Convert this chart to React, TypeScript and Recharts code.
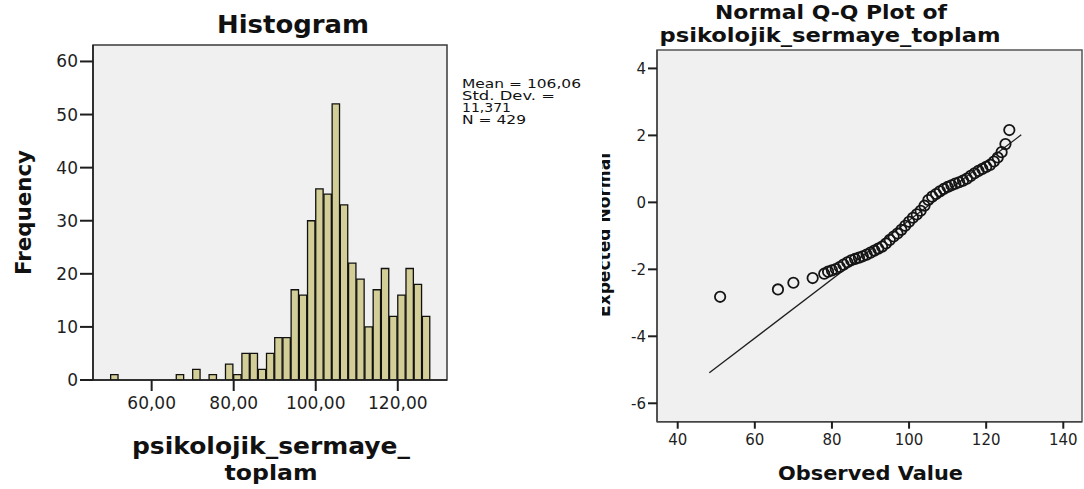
import React from "react";
import {
  Bar,
  BarChart,
  CartesianGrid,
  ReferenceArea,
  Scatter,
  ScatterChart,
  XAxis,
  YAxis,
} from "recharts";

// histogram bins (width 2), lower bound of each bin
const binStarts = [
  50, 52, 54, 56, 58, 60, 62, 64, 66, 68, 70, 72, 74, 76, 78, 80, 82, 84, 86, 88,
  90, 92, 94, 96, 98, 100, 102, 104, 106, 108, 110, 112, 114, 116, 118, 120, 122, 124, 126,
];
const binCounts = [
  1, 0, 0, 0, 0, 0, 0, 0, 1, 0, 2, 0, 1, 0, 3, 1, 5, 5, 2, 5,
  8, 8, 17, 16, 30, 36, 35, 52, 33, 22, 19, 10, 17, 21, 12, 16, 21, 18, 12,
];
const binWidth = 2;
const histXTicks = [60, 80, 100, 120];
const histYTicks = [0, 10, 20, 30, 40, 50, 60];
const statLines = ["Mean = 106,06", "Std. Dev. =", "11,371", "N = 429"];

// normal Q-Q plot points
const qqObserved = [
  51, 66, 70, 75, 78, 79, 80, 81, 82, 83, 84, 85, 86, 87, 88, 89, 90, 91, 92, 93,
  94, 95, 96, 97, 98, 99, 100, 101, 102, 103, 104, 105, 106, 107, 108, 109, 110,
  111, 112, 113, 114, 115, 116, 117, 118, 119, 120, 121, 122, 123, 124, 125, 126,
];
const qqExpected = [
  -2.82, -2.6, -2.4, -2.26, -2.13, -2.07, -2.03, -1.99, -1.93, -1.86, -1.79, -1.73,
  -1.69, -1.65, -1.61, -1.56, -1.5, -1.44, -1.38, -1.32, -1.23, -1.12, -1.02, -0.93,
  -0.82, -0.7, -0.58, -0.46, -0.36, -0.25, -0.1, 0.07, 0.17, 0.25, 0.33, 0.4, 0.46,
  0.51, 0.56, 0.6, 0.65, 0.71, 0.79, 0.87, 0.94, 1.0, 1.06, 1.12, 1.22, 1.34, 1.5,
  1.74, 2.16,
];
const lineObserved = [48.2, 129.1];
const lineExpected = [-5.09, 2.02];
const qqXTicks = [40, 60, 80, 100, 120, 140];
const qqYTicks = [-6, -4, -2, 0, 2, 4];

const histData = binStarts.map((s, i) => ({ mid: s + binWidth / 2, count: binCounts[i] }));
const qqData = qqObserved.map((x, i) => ({ x, y: qqExpected[i] }));
const lineData = lineObserved.map((x, i) => ({ x, y: lineExpected[i] }));

const H_X_DOMAIN: [number, number] = [45.7, 132];
const H_Y_DOMAIN: [number, number] = [0, 63.1];
const Q_X_DOMAIN: [number, number] = [34.63, 144.85];
const Q_Y_DOMAIN: [number, number] = [-6.55, 4.55];

// plot box of the histogram in page pixels
const hLeft = 93;
const hRight = 447;
const hTop = 45;
const hBottom = 380;
const barPx = ((hRight - hLeft) / (H_X_DOMAIN[1] - H_X_DOMAIN[0])) * binWidth;

const ink = "#1e1e1e";
const tickFont = { fill: ink, fontSize: 17, fontFamily: "DejaVu Sans" };
const qqTickFont = { fill: ink, fontSize: 15, fontFamily: "DejaVu Sans" };

const Ring = (props: any) => (
  <circle cx={props.cx} cy={props.cy} r={5.2} fill="none" stroke="#151515" strokeWidth={1.8} />
);

const commaFmt = (v: number) => v.toFixed(2).replace(".", ",");

export default function App() {
  const bold = { fontFamily: "DejaVu Sans", fontWeight: 700, fill: "#111" } as const;
  return (
    <div
      style={{
        position: "absolute",
        left: 0,
        top: 0,
        width: 1084,
        height: 489,
        background: "#fff",
        overflow: "hidden",
        fontFamily: "DejaVu Sans",
      }}
    >
      <div style={{ position: "absolute", left: 0, top: 0 }}>
        <BarChart
          width={600}
          height={489}
          data={histData}
          margin={{ top: hTop, right: 600 - hRight, bottom: 489 - hBottom - 30, left: hLeft - 40 }}
          barCategoryGap={0}
          barGap={0}
        >
          <CartesianGrid horizontal={false} vertical={false} fill="#f0f0f0" />
          <XAxis
            type="number"
            dataKey="mid"
            domain={H_X_DOMAIN}
            ticks={histXTicks}
            allowDataOverflow
            height={30}
            tickSize={11}
            tickMargin={6}
            tick={tickFont}
            tickFormatter={commaFmt}
            axisLine={{ stroke: ink, strokeWidth: 1.5 }}
            tickLine={{ stroke: ink, strokeWidth: 2 }}
          />
          <YAxis
            type="number"
            domain={H_Y_DOMAIN}
            ticks={histYTicks}
            allowDataOverflow
            width={40}
            tickSize={13}
            tickMargin={2}
            tick={tickFont}
            axisLine={{ stroke: ink, strokeWidth: 1.5 }}
            tickLine={{ stroke: ink, strokeWidth: 2 }}
          />
          <Bar
            dataKey="count"
            fill="#d3ce97"
            stroke="#111"
            strokeWidth={1.3}
            barSize={barPx}
            isAnimationActive={false}
          />
          <ReferenceArea
            x1={H_X_DOMAIN[0]}
            x2={H_X_DOMAIN[1]}
            y1={H_Y_DOMAIN[0]}
            y2={H_Y_DOMAIN[1]}
            fill="none"
            fillOpacity={0}
            stroke="#3a3a3a"
            strokeWidth={1.5}
            ifOverflow="visible"
          />
        </BarChart>
      </div>

      <div style={{ position: "absolute", left: 600, top: 0 }}>
        <ScatterChart
          width={484}
          height={489}
          margin={{ top: 50, right: 2, bottom: 489 - 421.7 - 30, left: 57 - 40 }}
        >
          <CartesianGrid horizontal={false} vertical={false} fill="#f0f0f0" />
          <XAxis
            type="number"
            dataKey="x"
            domain={Q_X_DOMAIN}
            ticks={qqXTicks}
            allowDataOverflow
            height={30}
            tickSize={7}
            tickMargin={6}
            tick={qqTickFont}
            axisLine={{ stroke: "#444", strokeWidth: 1.5 }}
            tickLine={{ stroke: ink, strokeWidth: 2 }}
          />
          <YAxis
            type="number"
            dataKey="y"
            domain={Q_Y_DOMAIN}
            ticks={qqYTicks}
            allowDataOverflow
            width={40}
            tickSize={9}
            tickMargin={2}
            tick={qqTickFont}
            axisLine={{ stroke: "#444", strokeWidth: 1.5 }}
            tickLine={{ stroke: ink, strokeWidth: 2 }}
          />
          <Scatter
            data={lineData}
            line={{ stroke: ink, strokeWidth: 1.3 }}
            shape={() => <g />}
            isAnimationActive={false}
          />
          <Scatter data={qqData} shape={Ring} isAnimationActive={false} />
          <ReferenceArea
            x1={Q_X_DOMAIN[0]}
            x2={Q_X_DOMAIN[1]}
            y1={Q_Y_DOMAIN[0]}
            y2={Q_Y_DOMAIN[1]}
            fill="none"
            fillOpacity={0}
            stroke="#555"
            strokeWidth={1.5}
            ifOverflow="visible"
          />
        </ScatterChart>
      </div>

      <svg
        width={1084}
        height={489}
        style={{ position: "absolute", left: 0, top: 0, pointerEvents: "none" }}
      >
        <defs>
          <clipPath id="qqYLabelClip">
            <rect x={602} y={0} width={40} height={489} />
          </clipPath>
        </defs>
        <text x={293} y={33} textAnchor="middle" fontSize={25} textLength={152} lengthAdjust="spacingAndGlyphs" {...bold}>
          Histogram
        </text>
        <text
          x={31}
          y={212.5}
          transform="rotate(-90 31 212.5)"
          textAnchor="middle"
          fontSize={21}
          textLength={125}
          lengthAdjust="spacingAndGlyphs"
          {...bold}
        >
          Frequency
        </text>
        <text x={271} y={454} textAnchor="middle" fontSize={23} textLength={278} lengthAdjust="spacingAndGlyphs" {...bold}>
          psikolojik_sermaye_
        </text>
        <text x={271} y={480} textAnchor="middle" fontSize={22} textLength={93} lengthAdjust="spacingAndGlyphs" {...bold}>
          toplam
        </text>
        {statLines.map((t, i) => (
          <text
            key={t}
            x={462}
            y={88 + i * 12}
            fontSize={11.5}
            fill="#111"
            fontFamily="DejaVu Sans"
            textLength={[119, 93, 49, 64][i]}
            lengthAdjust="spacingAndGlyphs"
          >
            {t}
          </text>
        ))}
        <text x={831} y={19} textAnchor="middle" fontSize={20} textLength={232} lengthAdjust="spacingAndGlyphs" {...bold}>
          Normal Q-Q Plot of
        </text>
        <text x={830} y={42} textAnchor="middle" fontSize={19.5} textLength={341} lengthAdjust="spacingAndGlyphs" {...bold}>
          psikolojik_sermaye_toplam
        </text>
        <text x={870.5} y={480} textAnchor="middle" fontSize={20} textLength={185} lengthAdjust="spacingAndGlyphs" {...bold}>
          Observed Value
        </text>
        <g clipPath="url(#qqYLabelClip)">
          <text
            x={610}
            y={235}
            transform="rotate(-90 610 235)"
            textAnchor="middle"
            fontSize={17}
            textLength={164}
            lengthAdjust="spacingAndGlyphs"
            {...bold}
          >
            Expected Normal
          </text>
        </g>
      </svg>
    </div>
  );
}
